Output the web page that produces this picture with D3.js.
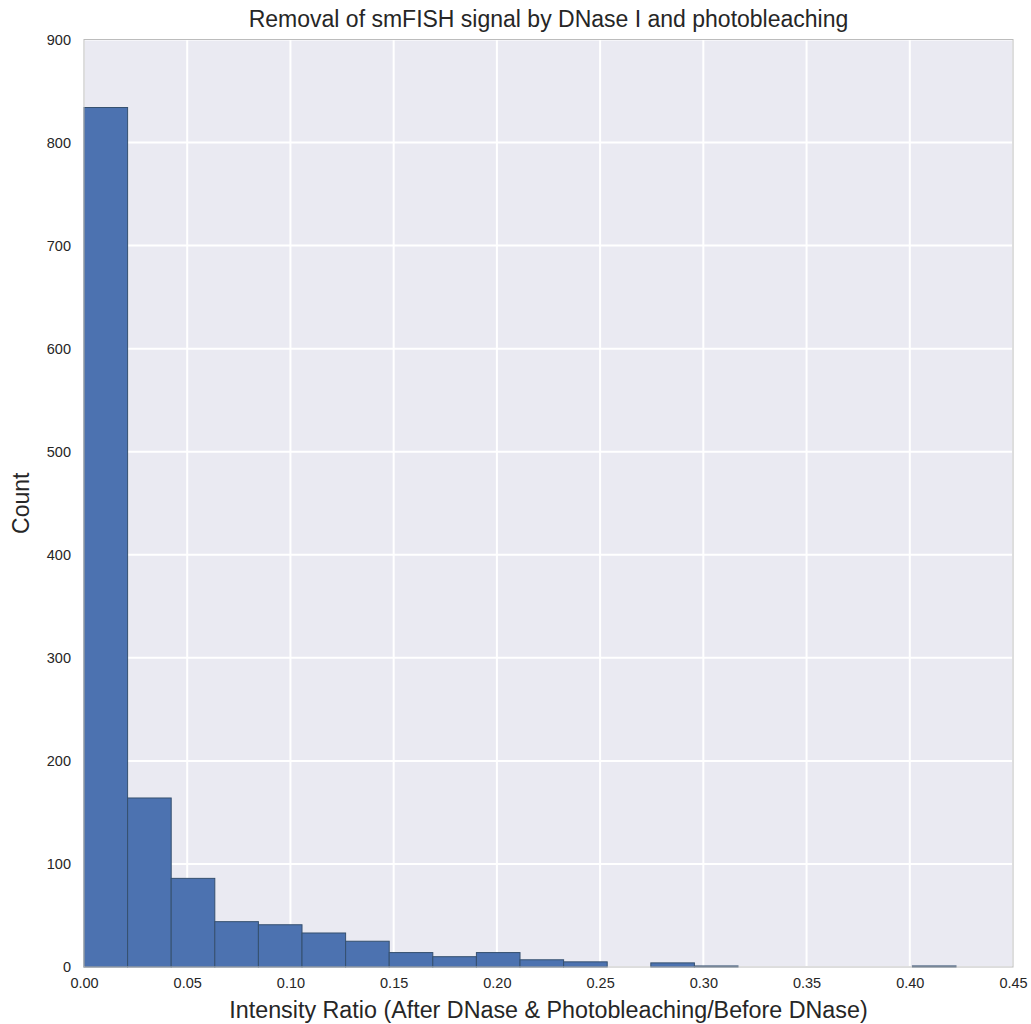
<!DOCTYPE html>
<html>
<head>
<meta charset="utf-8">
<script src="https://cdn.jsdelivr.net/npm/d3@7"></script>
<style>
  body { margin: 0; background: #fff; }
  svg text { font-family: "Liberation Sans", Arial, sans-serif; }
</style>
</head>
<body>
<script>
var width = 1031,
    height = 1024,
    margin = {top: 39.5, right: 18, bottom: 57, left: 84};

// histogram counts, 20 equal bins starting at 0
var binWidth = 0.02112;
var counts = [834, 164, 86, 44, 41, 33, 25, 14, 10, 14, 7, 5, 0, 4, 1, 0, 0, 0, 0, 1];
var xTicks = [0, 0.05, 0.10, 0.15, 0.20, 0.25, 0.30, 0.35, 0.40, 0.45];
var yTicks = [0, 100, 200, 300, 400, 500, 600, 700, 800, 900];

var bins = counts.map(function(c, i) {
  return {x0: i * binWidth, x1: (i + 1) * binWidth, n: c};
});

var svg = d3.select("body").append("svg")
    .attr("width", width)
    .attr("height", height);

var x = d3.scaleLinear().domain([0, 0.45]).range([margin.left, width - margin.right]),
    y = d3.scaleLinear().domain([0, 900]).range([height - margin.bottom, margin.top]);

// background
svg.append("rect")
    .attr("x", x(0))
    .attr("y", y(900))
    .attr("width", x(0.45) - x(0))
    .attr("height", y(0) - y(900))
    .attr("fill", "#eaeaf2");

// grid
svg.append("g").selectAll("line")
    .data(xTicks)
    .enter().append("line")
      .attr("x1", function(d) { return x(d); })
      .attr("x2", function(d) { return x(d); })
      .attr("y1", y(0))
      .attr("y2", y(900))
      .attr("stroke", "#fff")
      .attr("stroke-width", 2);

svg.append("g").selectAll("line")
    .data(yTicks)
    .enter().append("line")
      .attr("x1", x(0))
      .attr("x2", x(0.45))
      .attr("y1", function(d) { return y(d); })
      .attr("y2", function(d) { return y(d); })
      .attr("stroke", "#fff")
      .attr("stroke-width", 2);

// bars
svg.append("g").selectAll("rect")
    .data(bins.filter(function(d) { return d.n > 0; }))
    .enter().append("rect")
      .attr("x", function(d) { return x(d.x0); })
      .attr("y", function(d) { return y(d.n); })
      .attr("width", function(d) { return x(d.x1) - x(d.x0); })
      .attr("height", function(d) { return y(0) - y(d.n); })
      .attr("fill", "#4c72b0")
      .attr("stroke", "#35506f")
      .attr("stroke-width", 1);

// frame
svg.append("rect")
    .attr("x", x(0))
    .attr("y", y(900))
    .attr("width", x(0.45) - x(0))
    .attr("height", y(0) - y(900))
    .attr("fill", "none")
    .attr("stroke", "#bcbcbc")
    .attr("stroke-width", 1);

// axes
svg.append("g")
    .attr("transform", "translate(0," + y(0) + ")")
    .call(d3.axisBottom(x).tickValues(xTicks).tickFormat(d3.format(".2f")).tickSize(0).tickPadding(11));

svg.append("g")
    .attr("transform", "translate(" + x(0) + ",0)")
    .call(d3.axisLeft(y).tickValues(yTicks).tickFormat(d3.format("d")).tickSize(0).tickPadding(13));

svg.selectAll(".domain").remove();
svg.selectAll(".tick text")
    .attr("font-size", 14.5)
    .attr("fill", "#262626");

// titles
svg.append("text")
    .attr("x", (x(0) + x(0.45)) / 2)
    .attr("y", 27)
    .attr("text-anchor", "middle")
    .attr("font-size", 23)
    .attr("fill", "#262626")
    .text("Removal of smFISH signal by DNase I and photobleaching");

svg.append("text")
    .attr("x", (x(0) + x(0.45)) / 2)
    .attr("y", 1018)
    .attr("text-anchor", "middle")
    .attr("font-size", 23.3)
    .attr("fill", "#262626")
    .text("Intensity Ratio (After DNase & Photobleaching/Before DNase)");

svg.append("text")
    .attr("transform", "translate(29," + ((y(0) + y(900)) / 2) + ")rotate(-90)")
    .attr("text-anchor", "middle")
    .attr("font-size", 23)
    .attr("fill", "#262626")
    .text("Count");
</script>
</body>
</html>
